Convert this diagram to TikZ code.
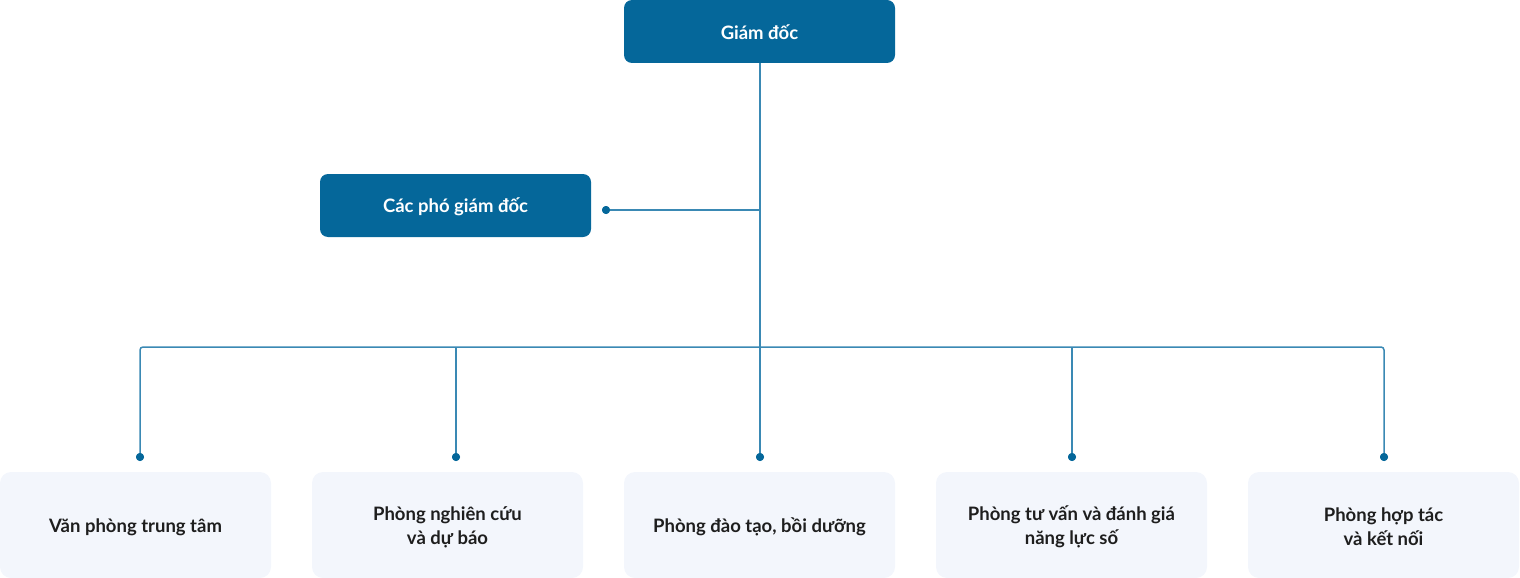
\documentclass[tikz,border=0pt]{standalone}
\usepackage{fontspec}
\setmainfont{Lato}
\definecolor{boxblue}{HTML}{05679A}
\definecolor{lineblue}{HTML}{3A89B4}
\definecolor{lightbox}{HTML}{F3F6FC}
\definecolor{txt}{HTML}{1E1E1E}
\begin{document}
\begin{tikzpicture}[x=1pt,y=-1pt,
  topfill/.style={fill=boxblue,rounded corners=8pt},
  toptext/.style={text=white,font=\bfseries\fontsize{18.5}{22}\selectfont},
  unitfill/.style={fill=lightbox,rounded corners=11pt},
  unittext/.style={text=txt,font=\bfseries\fontsize{18.5}{24}\selectfont,align=center},
  conn/.style={draw=lineblue,line width=1.5pt},
  dot/.style={circle,fill=boxblue,inner sep=0pt,minimum size=8pt}]
\useasboundingbox (0,0) rectangle (1520,578);
\path[topfill] (624,0) rectangle (895,63);
\node[toptext] (gd) at (759.5,32.5) {Giám đốc};
\coordinate (gdb) at (760,63);
\path[topfill] (320,174) rectangle (591,237);
\node[toptext] (pgd) at (455.5,207) {Các phó giám đốc};
\node[dot] (dp) at (606,210) {};
\coordinate (j) at (760,210);
\coordinate (h) at (760,347);
\foreach \i/\x/\t in {1/0/{Văn phòng trung tâm},2/312/{Phòng nghiên cứu\\và dự báo},3/624/{Phòng đào tạo, bồi dưỡng},4/936/{Phòng tư vấn và đánh giá\\năng lực số},5/1248/{Phòng hợp tác\\và kết nối}}{
  \path[unitfill] (\x,472) rectangle ++(271,106);
  \node[unittext] (u\i) at (\x+135.5,527) {\t};
}
\foreach \i/\x in {1/140,2/456,3/760,4/1072,5/1384}{
  \node[dot] (d\i) at (\x,457) {};
}
\draw[conn] (gdb) -- (d3.center);
\draw[conn] (j) -- (dp.center);
\draw[conn,rounded corners=3pt] (d1.center) |- (h) -| (d5.center);
\draw[conn] (d2.center) -- (d2.center |- h);
\draw[conn] (d4.center) -- (d4.center |- h);
\foreach \i in {1,...,5}{\node[dot] at (d\i) {};}
\node[dot] at (dp) {};
\end{tikzpicture}
\end{document}
